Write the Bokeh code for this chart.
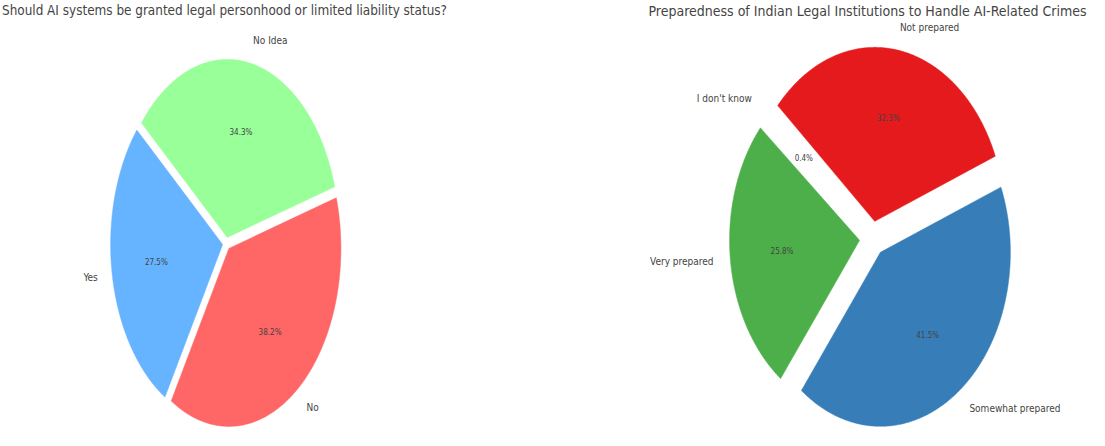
import numpy as np
from bokeh.plotting import figure
from bokeh.models import Range1d, ColumnDataSource
from bokeh.embed import file_html
from bokeh.resources import INLINE
from bokeh.core.properties import value

# ---------------- data ----------------
left_title = "Should AI systems be granted legal personhood or limited liability status?"
left_labels = ["Yes", "No", "No Idea"]
left_values = [27.5, 38.2, 34.3]
left_colors = ["#66b3ff", "#ff6666", "#99ff99"]

right_title = "Preparedness of Indian Legal Institutions to Handle AI-Related Crimes"
right_labels = ["Not prepared", "I don't know", "Very prepared", "Somewhat prepared"]
right_values = [32.3, 0.4, 25.8, 41.5]
right_colors = ["#e41a1c", "#ffffff", "#4daf4a", "#377eb8"]

# ---------------- layout ----------------
W, H = 1089, 430
p = figure(width=W, height=H, x_range=Range1d(8, 8 + W), y_range=Range1d(8 + H, 8),
           output_backend="svg", toolbar_location=None, min_border=0)
p.axis.visible = False
p.grid.visible = False
p.outline_line_color = None
p.background_fill_color = "white"

TITLE_FONT = "DejaVu Sans Condensed"
LABEL_FONT = "DejaVu Sans Condensed"


def draw_pie(values, labels, colors, title, cx, cy, rx, ry, start, explode,
             title_x, title_y, title_size, labeldist=1.1):
    vals = np.array(values, dtype=float)
    fr = vals / vals.sum()
    theta = start
    xs, ys = [], []
    lx, ly, la, lt = [], [], [], []
    px_, py_, pt = [], [], []
    for f, lab in zip(fr, labels):
        t1 = theta + 360.0 * f
        mid = np.deg2rad((theta + t1) / 2.0)
        ox = cx + explode * rx * np.cos(mid)
        oy = cy - explode * ry * np.sin(mid)
        n = max(3, int(abs(t1 - theta) * 2) + 2)
        ts = np.deg2rad(np.linspace(theta, t1, n))
        xs.append([ox] + list(ox + rx * np.cos(ts)))
        ys.append([oy] + list(oy - ry * np.sin(ts)))
        lx.append(ox + labeldist * rx * np.cos(mid))
        ly.append(oy - labeldist * ry * np.sin(mid))
        la.append("left" if np.cos(mid) > 0 else "right")
        lt.append(lab)
        px_.append(ox + 0.6 * rx * np.cos(mid))
        py_.append(oy - 0.6 * ry * np.sin(mid))
        pt.append("%.1f%%" % (f * 100))
        theta = t1
    src = ColumnDataSource(dict(xs=xs, ys=ys, c=colors))
    p.patches("xs", "ys", fill_color="c", line_color="c", line_width=0.5, source=src)
    lsrc = ColumnDataSource(dict(x=lx, y=ly, a=la, t=lt))
    p.text("x", "y", text="t", text_align="a", text_baseline="middle",
           text_font=value(LABEL_FONT), text_font_size="10px", text_color="#444444", source=lsrc)
    psrc = ColumnDataSource(dict(x=px_, y=py_, t=pt))
    p.text("x", "y", text="t", text_align="center", text_baseline="middle",
           text_font=value(LABEL_FONT), text_font_size="8px", text_color="#444444", source=psrc)
    p.text(x=[title_x], y=[title_y], text=[title], text_align="center", text_baseline="middle",
           text_font=value(TITLE_FONT), text_font_size=title_size, text_color="#444444")


draw_pie(left_values, left_labels, left_colors, left_title,
         cx=234, cy=251, rx=112, ry=178, start=140, explode=0.035,
         title_x=232, title_y=18, title_size="13.4px", labeldist=1.13)
draw_pie(right_values, right_labels, right_colors, right_title,
         cx=880, cy=246, rx=130, ry=174, start=22, explode=0.1,
         title_x=875, title_y=18, title_size="14px", labeldist=1.13)

open("out.html", "w").write(file_html(p, INLINE))
